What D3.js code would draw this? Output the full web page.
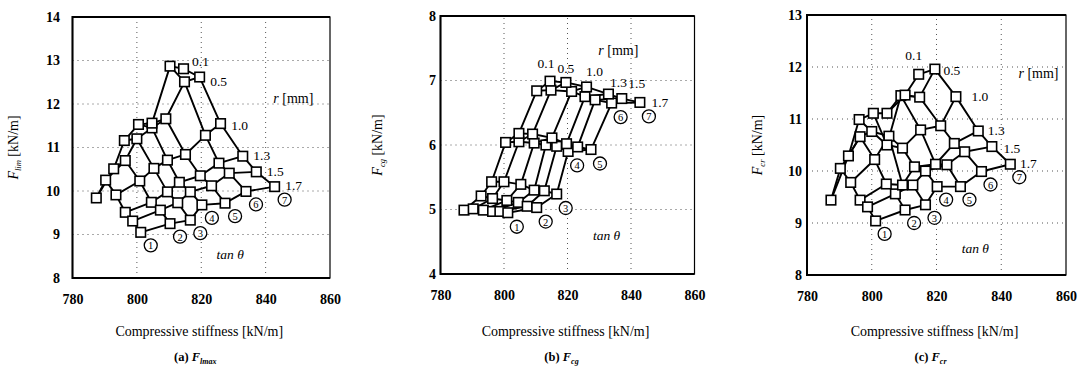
<!DOCTYPE html>
<html><head><meta charset="utf-8">
<script src="https://cdn.jsdelivr.net/npm/d3@7"></script>
<style>body{margin:0;background:#fff}</style>
</head><body><svg id="c" width="1079" height="370"></svg>
<script>
// ---------- data ----------
const xTicks = [780, 800, 820, 840, 860];
const rValues = ["0.1", "0.5", "1.0", "1.3", "1.5", "1.7"];
const tanLabels = ["1", "2", "3", "4", "5", "6", "7"];
// compressive stiffness [kN/m]; rows: tanθ ①..⑦, columns: r = 0.1..1.7
const stiffness = [
  [787.4, 790.3, 793.5, 796.4, 798.7, 801.2],
  [792.8, 796.4, 800.9, 804.5, 807.3, 810.3],
  [796.1, 800.0, 805.3, 809.5, 812.7, 816.6],
  [800.5, 804.7, 809.5, 813.2, 816.6, 820.2],
  [804.7, 809.0, 815.1, 819.7, 823.2, 827.4],
  [810.3, 814.8, 821.3, 825.5, 828.7, 833.9],
  [814.5, 819.5, 826.0, 832.9, 837.1, 842.8]
];
const fLmax = [
  [9.84, 10.25, 9.91, 9.51, 9.31, 9.05],
  [10.51, 10.70, 10.23, 9.74, 9.56, 9.25],
  [11.16, 11.20, 10.52, 9.98, 9.73, 9.33],
  [11.53, 11.45, 10.71, 10.20, 9.98, 9.68],
  [11.56, 11.66, 10.84, 10.35, 10.12, 9.72],
  [12.87, 12.51, 11.28, 10.64, 10.41, 9.99],
  [12.81, 12.62, 11.55, 10.80, 10.44, 10.10]
];
const fCg = [
  [4.99, 5.01, 4.99, 4.97, 4.97, 4.95],
  [5.21, 5.17, 5.14, 5.11, 5.05, 5.03],
  [5.43, 5.43, 5.39, 5.30, 5.29, 5.24],
  [6.04, 6.05, 6.03, 6.00, 5.98, 5.90],
  [6.18, 6.17, 6.11, 6.02, 5.97, 5.93],
  [6.84, 6.85, 6.83, 6.75, 6.70, 6.65],
  [6.99, 6.97, 6.90, 6.79, 6.72, 6.66]
];
const fCr = [
  [9.44, 10.05, 9.78, 9.44, 9.31, 9.04],
  [10.29, 10.66, 10.22, 9.75, 9.56, 9.25],
  [10.99, 10.76, 10.67, 9.73, 9.73, 9.35],
  [11.11, 10.50, 10.44, 10.08, 10.00, 9.70],
  [11.11, 11.45, 10.79, 10.13, 10.12, 9.70],
  [11.46, 11.42, 10.87, 10.53, 10.37, 9.99],
  [11.86, 11.96, 11.43, 10.77, 10.47, 10.13]
];
const yTicksA = [8, 9, 10, 11, 12, 13, 14];
const yTicksB = [4, 5, 6, 7, 8];
const yTicksC = [8, 9, 10, 11, 12, 13];

// ---------- layout ----------
const panels = [
  { data: fLmax, yTicks: yTicksA, x0: 72.5, x1: 330, y0: 278, y1: 17, tickEnd: 60, ylabX: 18,
    ysub: "lim", cap: "(a) ", capSub: "lmax",
    rOff: [[17,-7],[19,4],[19,2],[19,-1],[19,0],[19,-1]], cOff: [10,13],
    rmm: [848.6, 12.14], tan: [829, 8.53] },
  { data: fCg, yTicks: yTicksB, x0: 440.5, x1: 694.5, y0: 274, y1: 16, tickEnd: 436, ylabX: 382,
    ysub: "cg", cap: "(b) ", capSub: "cg",
    rOff: [[-4,-18],[0,-14],[8,-15],[10,-12],[15,-15],[20,0]], cOff: [9,14],
    rmm: [836, 7.47], tan: [832.3, 4.6] },
  { data: fCr, yTicks: yTicksC, x0: 807, x1: 1066, y0: 275, y1: 15, tickEnd: 802, ylabX: 762,
    ysub: "cr", cap: "(c) ", capSub: "cr",
    rOff: [[-5,-19],[17,1],[24,0],[18,0],[20,2],[18,-1]], cOff: [9,13],
    rmm: [851.5, 11.88], tan: [832, 8.51] }
];

const svg = d3.select("#c");
const serif = "'Liberation Serif', 'Times New Roman', serif";

panels.forEach(p => {
  const yDom = d3.extent(p.yTicks);
  const x = d3.scaleLinear().domain([780, 860]).range([p.x0, p.x1]);
  const y = d3.scaleLinear().domain(yDom).range([p.y0, p.y1]);
  const g = svg.append("g");

  // grid (dotted)
  g.selectAll(".hg").data(p.yTicks.slice(1, -1)).join("line")
    .attr("x1", p.x0).attr("x2", p.x1).attr("y1", d => y(d)).attr("y2", d => y(d))
    .attr("stroke", "#555").attr("stroke-width", 1).attr("stroke-dasharray", "1,4");
  g.selectAll(".vg").data(xTicks.slice(1, -1)).join("line")
    .attr("y1", p.y0).attr("y2", p.y1).attr("x1", d => x(d)).attr("x2", d => x(d))
    .attr("stroke", "#555").attr("stroke-width", 1).attr("stroke-dasharray", "1,4");

  // frame
  g.append("rect").attr("x", p.x0).attr("y", p.y1).attr("width", p.x1 - p.x0).attr("height", p.y0 - p.y1)
    .attr("fill", "none").attr("stroke", "#000").attr("stroke-width", 1.2);
  g.append("path").attr("d", `M${p.x1},${p.y1}H${p.x0}V${p.y0}H${p.x1}`)
    .attr("fill", "none").attr("stroke", "#000").attr("stroke-width", 2);

  // axes (labels only)
  const xa = g.append("g").attr("transform", `translate(0,${p.y0})`)
    .call(d3.axisBottom(x).tickValues(xTicks).tickSize(0).tickPadding(16).tickFormat(d3.format("d")));
  const ya = g.append("g").attr("transform", `translate(${p.tickEnd + 3},0)`)
    .call(d3.axisLeft(y).tickValues(p.yTicks).tickSize(0).tickPadding(3).tickFormat(d3.format("d")));
  [xa, ya].forEach(a => {
    a.select(".domain").remove();
    a.selectAll("text").attr("font-family", serif).attr("font-weight", "bold")
      .attr("font-size", 14).attr("fill", "#000");
  });

  // titles
  g.append("text").attr("x", (p.x0 + p.x1) / 2 - 2).attr("y", 336)
    .attr("text-anchor", "middle").attr("font-family", serif).attr("font-size", 14)
    .text("Compressive stiffness [kN/m]");
  const yl = g.append("text").attr("transform", `translate(${p.ylabX},${(p.y0 + p.y1) / 2}) rotate(-90)`)
    .attr("text-anchor", "middle").attr("font-family", serif).attr("font-size", 14);
  yl.append("tspan").attr("font-style", "italic").text("F");
  yl.append("tspan").attr("font-style", "italic").attr("font-size", 8.5).attr("dy", 3).text(p.ysub);
  yl.append("tspan").attr("dy", -3).text(" [kN/m]");
  const cp = g.append("text").attr("x", (p.x0 + p.x1) / 2 - 6).attr("y", 361)
    .attr("text-anchor", "middle").attr("font-family", serif).attr("font-size", 12.5).attr("font-weight", "bold");
  cp.append("tspan").text(p.cap);
  cp.append("tspan").attr("font-style", "italic").text("F");
  cp.append("tspan").attr("font-style", "italic").attr("font-size", 8).attr("dy", 3).text(p.capSub);

  // mesh lines
  const line = d3.line().x(d => x(d[0])).y(d => y(d[1]));
  const tanLines = p.data.map((row, t) => row.map((v, r) => [stiffness[t][r], v]));
  const rLines = rValues.map((_, r) => p.data.map((row, t) => [stiffness[t][r], row[r]]));
  g.selectAll(".tl").data(tanLines.concat(rLines)).join("path")
    .attr("d", line).attr("fill", "none").attr("stroke", "#000").attr("stroke-width", 1.9)
    .attr("stroke-linejoin", "round");

  // square markers
  const pts = [];
  p.data.forEach((row, t) => row.forEach((v, r) => pts.push([stiffness[t][r], v])));
  g.selectAll(".pt").data(pts).join("rect")
    .attr("x", d => x(d[0]) - 4.75).attr("y", d => y(d[1]) - 4.75)
    .attr("width", 9.5).attr("height", 9.5)
    .attr("fill", "#fff").attr("stroke", "#000").attr("stroke-width", 1.6);

  // r labels at tanθ ⑦ end
  rValues.forEach((lab, r) => {
    g.append("text")
      .attr("x", x(stiffness[6][r]) + p.rOff[r][0]).attr("y", y(p.data[6][r]) + p.rOff[r][1])
      .attr("text-anchor", "middle").attr("dominant-baseline", "central")
      .attr("font-family", serif).attr("font-size", 13.5).text(lab);
  });
  // circled tanθ labels at r = 1.7 end
  tanLabels.forEach((lab, t) => {
    const cx = x(stiffness[t][5]) + p.cOff[0], cy = y(p.data[t][5]) + p.cOff[1];
    g.append("circle").attr("cx", cx).attr("cy", cy).attr("r", 6.5)
      .attr("fill", "#fff").attr("stroke", "#000").attr("stroke-width", 1.3);
    g.append("text").attr("x", cx).attr("y", cy + 0.5).attr("text-anchor", "middle")
      .attr("dominant-baseline", "central").attr("font-family", serif).attr("font-size", 10.5).text(lab);
  });

  // annotations
  const rm = g.append("text").attr("x", x(p.rmm[0])).attr("y", y(p.rmm[1]))
    .attr("text-anchor", "middle").attr("dominant-baseline", "central")
    .attr("font-family", serif).attr("font-size", 14);
  rm.append("tspan").attr("font-style", "italic").text("r");
  rm.append("tspan").text(" [mm]");
  g.append("text").attr("x", x(p.tan[0])).attr("y", y(p.tan[1]))
    .attr("text-anchor", "middle").attr("dominant-baseline", "central")
    .attr("font-family", serif).attr("font-style", "italic").attr("font-size", 13.5)
    .text("tan  θ");
});
</script>
</body></html>
